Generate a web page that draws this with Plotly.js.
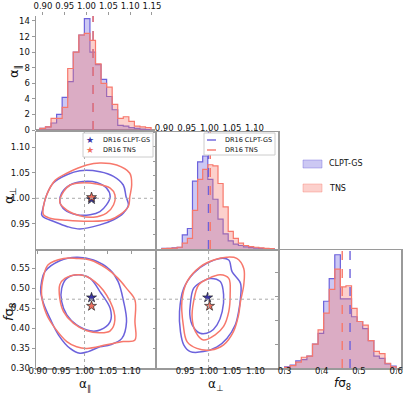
<!DOCTYPE html>
<html>
<head>
<meta charset="utf-8">
<script src="https://cdn.plot.ly/plotly-3.0.1.min.js"></script>
<style>
  html, body { margin: 0; padding: 0; background: #fff; }
  #plot { width: 407px; height: 393px; }
</style>
</head>
<body>
<div id="plot"></div>
<script>
// ---- histogram data ----
const aparStart = 0.893, aparBinW = 0.01275;
const aparClpt = [0.2, 0.4, 0.9, 2.0, 4.2, 6.2, 10.0, 12.2, 14.3, 10.0, 8.4, 6.5, 4.3, 2.6, 0.6, 0.5, 0.3, 0.2, 0.1, 0.05];
const aparTns  = [0.2, 0.4, 1.5, 1.5, 2.9, 7.9, 10.0, 12.2, 12.4, 11.5, 8.5, 6.0, 5.5, 3.3, 1.5, 1.7, 1.1, 0.5, 0.4, 0.3];

const aperpStart = 0.8948, aperpBinW = 0.0113;
const aperpClpt = [0.1, 0.1, 0.2, 0.3, 2.4, 3.5, 11.6, 14.9, 15.9, 11.9, 8.5, 5.1, 2.6, 1.4, 0.85, 0.6, 0.35, 0.25, 0.15, 0.1, 0.05, 0.05];
const aperpTns  = [0.05, 0.1, 0.15, 0.3, 1.0, 1.8, 6.6, 11.9, 13.6, 14.4, 14.2, 11.2, 7.2, 3.0, 1.8, 1.0, 0.6, 0.4, 0.3, 0.2, 0.1, 0.05];

const fs8Start = 0.30, fs8BinW = 0.015;
const fs8Clpt = [0.1, 0.25, 0.6, 0.7, 1.0, 2.0, 2.9, 5.6, 7.5, 9.5, 5.8, 5.8, 4.3, 3.9, 3.3, 2.3, 1.0, 0.8, 0.35, 0.15];
const fs8Tns  = [0.05, 0.2, 0.5, 0.9, 1.0, 2.0, 3.2, 4.6, 6.6, 8.3, 6.8, 6.9, 5.0, 3.9, 3.6, 2.3, 1.4, 1.2, 0.4, 0.1];

// DR16 measurements [alpha_par, alpha_perp, f sigma8]
const dr16Clpt = [1.015, 0.998, 0.476];
const dr16Tns  = [1.015, 1.002, 0.455];
// reference (grey dotted) values
const truth = [1.0, 1.0, 0.472];

// ---- contours [x, y] (68% inner, 95% outer) ----
// alpha_perp vs alpha_par
const c21ClptOuter = [[0.908,0.968],[0.910,0.977],[0.919,1.007],[0.933,1.030],[0.962,1.046],[0.990,1.054],[1.033,1.052],[1.062,1.043],[1.083,1.026],[1.089,1.003],[1.094,0.987],[1.083,0.971],[1.062,0.958],[1.033,0.948],[0.990,0.940],[0.962,0.945],[0.933,0.955],[0.912,0.963]];
const c21TnsOuter  = [[0.912,0.984],[0.919,1.007],[0.937,1.035],[0.962,1.049],[1.005,1.065],[1.033,1.069],[1.069,1.065],[1.097,1.049],[1.101,1.026],[1.097,1.003],[1.094,0.984],[1.076,0.968],[1.055,0.958],[1.012,0.955],[0.962,0.957],[0.926,0.961],[0.912,0.968]];
const c21ClptInner = [[0.947,0.994],[0.951,1.010],[0.969,1.026],[0.997,1.033],[1.026,1.031],[1.047,1.020],[1.055,1.003],[1.047,0.987],[1.033,0.974],[1.012,0.968],[0.983,0.968],[0.958,0.977]];
const c21TnsInner  = [[0.947,0.992],[0.955,1.013],[0.969,1.026],[0.990,1.030],[1.026,1.028],[1.055,1.020],[1.065,1.007],[1.062,0.987],[1.047,0.971],[1.019,0.963],[0.990,0.966],[0.962,0.977]];
// f sigma8 vs alpha_par
const c31ClptOuter = [[0.908,0.516],[0.915,0.541],[0.947,0.568],[0.983,0.577],[1.019,0.570],[1.055,0.545],[1.072,0.516],[1.083,0.470],[1.090,0.416],[1.080,0.374],[1.055,0.358],[1.033,0.353],[1.008,0.341],[0.990,0.337],[0.969,0.349],[0.944,0.383],[0.926,0.424],[0.912,0.462],[0.906,0.491]];
const c31TnsOuter  = [[0.912,0.528],[0.922,0.558],[0.955,0.574],[0.983,0.574],[1.012,0.570],[1.047,0.549],[1.072,0.524],[1.090,0.499],[1.108,0.470],[1.108,0.416],[1.108,0.370],[1.083,0.366],[1.047,0.358],[1.005,0.349],[0.983,0.353],[0.962,0.366],[0.937,0.399],[0.919,0.433],[0.908,0.483]];
const c31ClptInner = [[0.951,0.499],[0.962,0.524],[0.987,0.533],[1.012,0.524],[1.033,0.491],[1.055,0.449],[1.055,0.416],[1.033,0.395],[1.012,0.393],[0.983,0.408],[0.962,0.433],[0.951,0.466]];
const c31TnsInner  = [[0.947,0.508],[0.958,0.524],[0.990,0.533],[1.022,0.516],[1.055,0.466],[1.065,0.420],[1.055,0.393],[1.033,0.388],[1.005,0.393],[0.976,0.412],[0.955,0.441],[0.947,0.474]];
// f sigma8 vs alpha_perp
const c32ClptOuter = [[0.940,0.391],[0.938,0.441],[0.947,0.499],[0.968,0.537],[0.997,0.562],[1.025,0.574],[1.043,0.570],[1.050,0.541],[1.068,0.512],[1.068,0.474],[1.064,0.441],[1.057,0.408],[1.039,0.374],[1.018,0.353],[0.989,0.341],[0.961,0.341],[0.947,0.358]];
const c32TnsOuter  = [[0.946,0.408],[0.943,0.466],[0.954,0.516],[0.982,0.553],[1.011,0.570],[1.039,0.577],[1.060,0.574],[1.075,0.549],[1.075,0.508],[1.068,0.466],[1.064,0.433],[1.053,0.391],[1.032,0.358],[1.004,0.345],[0.975,0.349],[0.954,0.366]];
const c32ClptInner = [[0.960,0.433],[0.961,0.458],[0.968,0.499],[0.986,0.516],[1.004,0.524],[1.025,0.516],[1.032,0.483],[1.029,0.441],[1.018,0.408],[1.004,0.391],[0.982,0.387],[0.965,0.408]];
const c32TnsInner  = [[0.965,0.424],[0.968,0.466],[0.979,0.508],[1.000,0.524],[1.025,0.533],[1.043,0.524],[1.046,0.483],[1.043,0.441],[1.032,0.404],[1.014,0.383],[0.989,0.370],[0.972,0.391]];

const BLUE = '#6c62dc', RED = '#f7786c';
const BLUE_FILL = 'rgba(108,98,220,0.35)', RED_FILL = 'rgba(247,120,108,0.35)';
const STAR_BLUE = '#3b35a6', STAR_RED = '#f0705f';
const FONT = 'DejaVu Sans';

// step outline of a histogram
function steps(start, w, h) {
  const xs = [start], ys = [0];
  h.forEach((v, i) => { xs.push(start + i * w); ys.push(v); });
  xs.push(start + h.length * w); ys.push(0);
  return { xs, ys };
}

function histTrace(start, w, h, color, fill, xa, ya) {
  const s = steps(start, w, h);
  return {
    x: s.xs, y: s.ys, xaxis: xa, yaxis: ya,
    type: 'scatter', mode: 'lines',
    line: { shape: 'hv', color: color, width: 1.2 },
    fill: 'tozeroy', fillcolor: fill, hoverinfo: 'skip'
  };
}

function contour(pts, color, xa, ya) {
  const c = pts.concat([pts[0]]);
  return {
    x: c.map(p => p[0]), y: c.map(p => p[1]), xaxis: xa, yaxis: ya,
    type: 'scatter', mode: 'lines',
    line: { shape: 'spline', smoothing: 1, color: color, width: 1.5 },
    hoverinfo: 'skip'
  };
}

function star(x, y, color, xa, ya) {
  return {
    x: [x], y: [y], xaxis: xa, yaxis: ya, type: 'scatter', mode: 'markers',
    marker: { symbol: 'star', size: 7.5, color: color, line: { color: '#222', width: 0.7 } },
    hoverinfo: 'skip'
  };
}

function vline(v, top, color, xa, ya) {
  return {
    x: [v, v], y: [0, top], xaxis: xa, yaxis: ya, type: 'scatter', mode: 'lines',
    line: { color: color, width: 1.4, dash: 'dash' }, hoverinfo: 'skip'
  };
}

const data = [
  histTrace(aparStart, aparBinW, aparClpt, BLUE, BLUE_FILL, 'x', 'y'),
  histTrace(aparStart, aparBinW, aparTns, RED, RED_FILL, 'x', 'y'),
  vline(dr16Clpt[0], 14.64, BLUE, 'x', 'y'),
  vline(dr16Tns[0], 14.64, RED, 'x', 'y'),

  histTrace(aperpStart, aperpBinW, aperpClpt, BLUE, BLUE_FILL, 'x4', 'y4'),
  histTrace(aperpStart, aperpBinW, aperpTns, RED, RED_FILL, 'x4', 'y4'),
  vline(dr16Clpt[1], 20, BLUE, 'x4', 'y4'),
  vline(dr16Tns[1], 20, RED, 'x4', 'y4'),

  histTrace(fs8Start, fs8BinW, fs8Clpt, BLUE, BLUE_FILL, 'x6', 'y6'),
  histTrace(fs8Start, fs8BinW, fs8Tns, RED, RED_FILL, 'x6', 'y6'),
  vline(dr16Clpt[2], 9.9, BLUE, 'x6', 'y6'),
  vline(dr16Tns[2], 9.9, RED, 'x6', 'y6'),

  contour(c21ClptOuter, BLUE, 'x2', 'y2'), contour(c21ClptInner, BLUE, 'x2', 'y2'),
  contour(c21TnsOuter, RED, 'x2', 'y2'), contour(c21TnsInner, RED, 'x2', 'y2'),
  contour(c31ClptOuter, BLUE, 'x3', 'y3'), contour(c31ClptInner, BLUE, 'x3', 'y3'),
  contour(c31TnsOuter, RED, 'x3', 'y3'), contour(c31TnsInner, RED, 'x3', 'y3'),
  contour(c32ClptOuter, BLUE, 'x5', 'y5'), contour(c32ClptInner, BLUE, 'x5', 'y5'),
  contour(c32TnsOuter, RED, 'x5', 'y5'), contour(c32TnsInner, RED, 'x5', 'y5'),

  star(dr16Clpt[0], dr16Clpt[1], STAR_BLUE, 'x2', 'y2'),
  star(dr16Tns[0], dr16Tns[1], STAR_RED, 'x2', 'y2'),
  star(dr16Clpt[0], dr16Clpt[2], STAR_BLUE, 'x3', 'y3'),
  star(dr16Tns[0], dr16Tns[2], STAR_RED, 'x3', 'y3'),
  star(dr16Clpt[1], dr16Clpt[2], STAR_BLUE, 'x5', 'y5'),
  star(dr16Tns[1], dr16Tns[2], STAR_RED, 'x5', 'y5')
];

const W = 407, H = 393;
const fx = v => v / W, fy = v => 1 - v / H;
const col1 = [fx(36), fx(155)], col2 = [fx(157), fx(278)], col3 = [fx(279), fx(401)];
const row1 = [fy(130), fy(16)], row2 = [fy(249), fy(132)], row3 = [fy(368), fy(250)];

function ax(o) {
  return Object.assign({
    showline: true, mirror: true, linecolor: '#9a9a9a', linewidth: 1.5,
    ticks: 'outside', ticklen: 3, tickcolor: '#9a9a9a', tickwidth: 1,
    tickfont: { family: FONT, size: 8.5, color: '#111' },
    showgrid: false, zeroline: false, fixedrange: true
  }, o);
}

const aparTicks = [0.90, 0.95, 1.00, 1.05, 1.10];
const fs8Ticks = [0.30, 0.35, 0.40, 0.45, 0.50, 0.55];

const dotted = { color: '#aaa', width: 1, dash: 'dot' };
const shapes = [
  { type: 'line', xref: 'x2', yref: 'y2 domain', x0: truth[0], x1: truth[0], y0: 0, y1: 1, line: dotted },
  { type: 'line', xref: 'x2 domain', yref: 'y2', x0: 0, x1: 1, y0: truth[1], y1: truth[1], line: dotted },
  { type: 'line', xref: 'x3', yref: 'y3 domain', x0: truth[0], x1: truth[0], y0: 0, y1: 1, line: dotted },
  { type: 'line', xref: 'x3 domain', yref: 'y3', x0: 0, x1: 1, y0: truth[2], y1: truth[2], line: dotted },
  { type: 'line', xref: 'x5', yref: 'y5 domain', x0: truth[1], x1: truth[1], y0: 0, y1: 1, line: dotted },
  { type: 'line', xref: 'x5 domain', yref: 'y5', x0: 0, x1: 1, y0: truth[2], y1: truth[2], line: dotted }
];

// hand-built legends (paper pixels)
const paperShape = s => Object.assign({ xref: 'paper', yref: 'paper' }, s);
const box = (x0, y0, x1, y1) => paperShape({ type: 'rect', x0: fx(x0), x1: fx(x1), y0: fy(y1), y1: fy(y0),
  fillcolor: 'white', line: { color: '#cccccc', width: 1 }, layer: 'above' });
shapes.push(box(83, 133, 153, 157));
shapes.push(box(204, 133, 275, 155));
[[140, BLUE], [150, RED]].forEach(([y, c]) => shapes.push(paperShape({ type: 'line', x0: fx(207), x1: fx(220),
  y0: fy(y), y1: fy(y), line: { color: c, width: 1.4, dash: 'dash' }, layer: 'above' })));
[[164, BLUE_FILL, BLUE], [188, RED_FILL, RED]].forEach(([y, f, c]) => shapes.push(paperShape({ type: 'rect',
  x0: fx(303), x1: fx(322), y0: fy(y + 4), y1: fy(y - 4), fillcolor: f, line: { color: c, width: 0.4 } })));

const ann = (text, x, y, o) => Object.assign({ text, x: fx(x), y: fy(y), xref: 'paper', yref: 'paper',
  showarrow: false, xanchor: 'center', yanchor: 'middle', font: { family: FONT, size: 13, color: '#111' } }, o || {});
const small = { xanchor: 'left', font: { family: FONT, size: 6.5, color: '#111' } };
const bottomTitle = { yanchor: 'top', font: { family: FONT, size: 12, color: '#111' } };

const annotations = [
  ann('α<sub>∥</sub>', 15, 72, { textangle: -90 }),
  ann('α<sub>⊥</sub>', 9, 196, { textangle: -90 }),
  ann('<i>f</i>σ<sub>8</sub>', 9, 312, { textangle: -90 }),
  ann('α<sub>∥</sub>', 85, 375, bottomTitle),
  ann('α<sub>⊥</sub>', 215, 375, bottomTitle),
  ann('<i>f</i>σ<sub>8</sub>', 342, 374, bottomTitle),
  ann('★', 90, 140, { font: { family: FONT, size: 9, color: STAR_BLUE } }),
  ann('★', 90, 150.5, { font: { family: FONT, size: 9, color: STAR_RED } }),
  ann('DR16 CLPT-GS', 101, 140, small),
  ann('DR16 TNS', 101, 150.5, small),
  ann('DR16 CLPT-GS', 223, 140, small),
  ann('DR16 TNS', 223, 150, small),
  ann('CLPT-GS', 327, 164, { xanchor: 'left', font: { family: FONT, size: 8, color: '#111' } }),
  ann('TNS', 327, 188, { xanchor: 'left', font: { family: FONT, size: 8, color: '#111' } })
];

const bottomStandoff = -9;
const layout = {
  width: W, height: H,
  margin: { l: 0, r: 0, t: 0, b: 0 },
  paper_bgcolor: 'white', plot_bgcolor: 'white',
  font: { family: FONT, color: '#111' },
  showlegend: false,
  xaxis: ax({ domain: col1, anchor: 'y', range: [0.884, 1.157], side: 'top', showline: false, mirror: false,
              tickvals: [0.90, 0.95, 1.00, 1.05, 1.10, 1.15], tickformat: '.2f' }),
  yaxis: ax({ domain: row1, anchor: 'x', range: [0, 14.64], dtick: 2, mirror: false,
              zeroline: true, zerolinecolor: '#9a9a9a', zerolinewidth: 3 }),
  xaxis2: ax({ domain: col1, anchor: 'y2', range: [0.896, 1.151], tickvals: aparTicks, showticklabels: false }),
  yaxis2: ax({ domain: row2, anchor: 'x2', range: [0.9008, 1.1297], tickvals: [0.95, 1.00, 1.05, 1.10], tickformat: '.2f' }),
  xaxis3: ax({ domain: col1, anchor: 'y3', range: [0.896, 1.151], tickvals: aparTicks, tickformat: '.2f', ticklabelstandoff: bottomStandoff }),
  yaxis3: ax({ domain: row3, anchor: 'x3', range: [0.30, 0.595], tickvals: fs8Ticks, tickformat: '.2f' }),
  xaxis4: ax({ domain: col2, anchor: 'y4', range: [0.884, 1.152], side: 'top', tickvals: aparTicks, tickformat: '.2f', ticklabelstandoff: -7 }),
  yaxis4: ax({ domain: row2, anchor: 'x4', range: [0, 20], dtick: 2.5, showticklabels: false }),
  xaxis5: ax({ domain: col2, anchor: 'y5', range: [0.89, 1.148], tickvals: [0.95, 1.00, 1.05, 1.10], tickformat: '.2f', ticklabelstandoff: bottomStandoff }),
  yaxis5: ax({ domain: row3, anchor: 'x5', range: [0.30, 0.595], tickvals: fs8Ticks, showticklabels: false }),
  xaxis6: ax({ domain: col3, anchor: 'y6', range: [0.285, 0.613], tickvals: [0.3, 0.4, 0.5, 0.6], tickformat: '.1f', ticklabelstandoff: bottomStandoff }),
  yaxis6: ax({ domain: row3, anchor: 'x6', range: [0, 9.9], dtick: 2, showticklabels: false }),
  shapes: shapes,
  annotations: annotations
};

Plotly.newPlot('plot', data, layout, { staticPlot: true, displayModeBar: false });
</script>
</body>
</html>
